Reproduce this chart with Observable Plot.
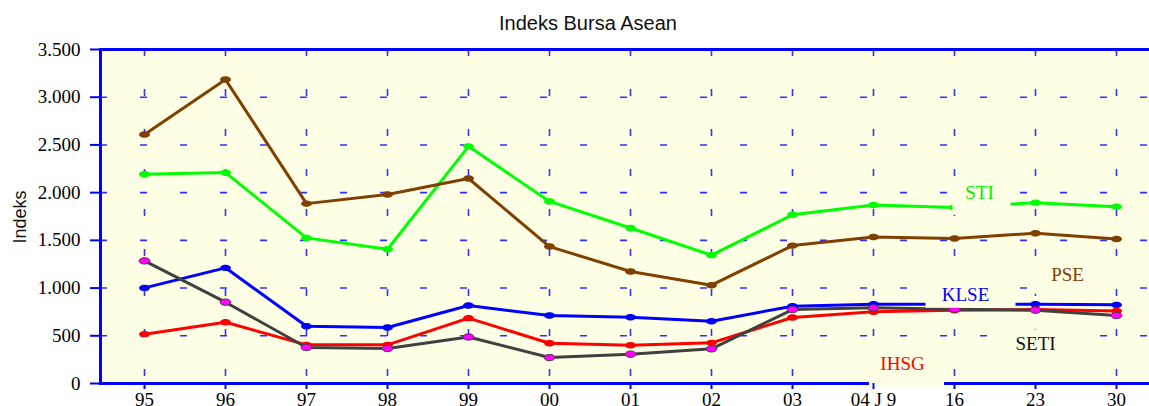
<!DOCTYPE html>
<html>
<head>
<meta charset="utf-8">
<script src="https://cdn.jsdelivr.net/npm/d3@7"></script>
<script src="https://cdn.jsdelivr.net/npm/@observablehq/plot@0.6"></script>
<style>
  html, body { margin: 0; padding: 0; background: #ffffff; overflow: hidden; }
  #wrap { position: relative; width: 1149px; height: 406px; overflow: hidden; background: #ffffff; }
  #title { position: absolute; left: 0; top: 13px; width: 1176px; text-align: center;
           font-family: "Liberation Sans", Arial, sans-serif; font-size: 20px; line-height: 20px; color: #111; }
  #ylabel { position: absolute; left: 19.5px; top: 217px; transform: translate(-50%, -50%) rotate(-90deg);
            font-family: "Liberation Sans", Arial, sans-serif; font-size: 18px; line-height: 18px; white-space: nowrap; color: #111; }
  #chart { position: absolute; left: 0; top: 40px; width: 1162px; }
  #chart svg { max-width: none !important; }
</style>
</head>
<body>
<div id="wrap">
  <div id="title">Indeks Bursa Asean</div>
  <div id="ylabel">Indeks</div>
  <div id="chart"></div>
</div>
<script>
// ---- data ----
const xLabels = ["95", "96", "97", "98", "99", "00", "01", "02", "03", "04 J 9", "16", "23", "30"];
const seriesNames = ["STI", "PSE", "KLSE", "IHSG", "SETI"];
const sti  = [2192, 2210, 1526, 1407, 2485, 1908, 1630, 1345, 1768, 1870, 1845, 1895, 1853];
const pse  = [2610, 3185, 1885, 1980, 2148, 1435, 1174, 1030, 1445, 1535, 1520, 1575, 1515];
const klse = [1002, 1212,  600,  587,  817,  712,  695,  653,  810,  831,  830,  831,  824];
const ihsg = [ 517,  642,  405,  405,  685,  422,  401,  426,  692,  751,  768,  775,  761];
const seti = [1285,  852,  377,  367,  488,  272,  307,  363,  775,  793,  779,  768,  712];
const yTicks = [0, 500, 1000, 1500, 2000, 2500, 3000, 3500];
const yTickLabels = ["0", "500", "1.000", "1.500", "2.000", "2.500", "3.000", "3.500"];
const gridValues = [500, 1000, 1500, 2000, 2500, 3000];
const labelNames = ["STI", "PSE", "KLSE", "SETI", "IHSG"];
const labelCats = ["16", "23", "16", "23", "04 J 9"];
const labelValues = [2000, 1140, 930, 420, 205];

// ---- styles ----
const seriesValues = [sti, pse, klse, ihsg, seti];
const lineColors = ["#00ff00", "#804000", "#0000ff", "#ff0000", "#404040"];
const markColors = ["#00ff00", "#804000", "#0000ff", "#ff0000", "#ff00ff"];
const markStroke = ["none", "none", "none", "none", "#404040"];
const labelColors = { STI: "#00ee00", PSE: "#804000", KLSE: "#0000ff", SETI: "#111111", IHSG: "#ff0000" };
const labelStyle = {
  STI:  { dx: 25, ox: 2, oy: 3,   w: 58, h: 38 },
  PSE:  { dx: 32, ox: 1, oy: 1.5, w: 82, h: 35 },
  KLSE: { dx: 11, ox: 5, oy: -1,  w: 90, h: 28 },
  SETI: { dx: 0,  ox: 6, oy: 10,  w: 78, h: 48 },
  IHSG: { dx: 29, ox: 4, oy: 3,   w: 75, h: 39 }
};
const bg = "#ffffe6";
const blue = "#0000ff";

const rows = xLabels.flatMap((c, i) => seriesNames.map((s, k) => ({ cat: c, name: s, value: seriesValues[k][i] })));

const ellipse = {
  draw(ctx, size) {
    const r = Math.sqrt(size / Math.PI), rx = r * 1.7, ry = r, k = 0.5523;
    ctx.moveTo(rx, 0);
    ctx.bezierCurveTo(rx, ry * k, rx * k, ry, 0, ry);
    ctx.bezierCurveTo(-rx * k, ry, -rx, ry * k, -rx, 0);
    ctx.bezierCurveTo(-rx, -ry * k, -rx * k, -ry, 0, -ry);
    ctx.bezierCurveTo(rx * k, -ry, rx, -ry * k, rx, 0);
    ctx.closePath();
  }
};
const boxSymbol = (ox, oy, w, h) => ({
  draw(ctx) {
    ctx.moveTo(ox - w / 2, oy - h / 2);
    ctx.lineTo(ox + w / 2, oy - h / 2);
    ctx.lineTo(ox + w / 2, oy + h / 2);
    ctx.lineTo(ox - w / 2, oy + h / 2);
    ctx.closePath();
  }
});

const seriesMarks = seriesNames.flatMap((s, k) => {
  const d = rows.filter(r => r.name === s);
  return [
    Plot.line(d, { x: "cat", y: "value", stroke: lineColors[k], strokeWidth: 3 }),
    Plot.dot(d, { x: "cat", y: "value", symbol: ellipse, r: 3.2, fill: markColors[k], stroke: markStroke[k], strokeWidth: 1 })
  ];
});

const labelRows = labelNames.map((n, i) => ({ name: n, cat: labelCats[i], value: labelValues[i] }));
const boxMarks = labelRows.map(d => {
  const st = labelStyle[d.name];
  return Plot.dot([d], { x: "cat", y: "value", r: 1, dx: st.dx, symbol: boxSymbol(st.ox, st.oy, st.w, st.h), fill: bg, stroke: "none" });
});
const textMarks = labelRows.map(d => {
  const st = labelStyle[d.name];
  return Plot.text([d], { x: "cat", y: "value", text: "name", dx: st.dx, fill: labelColors[d.name],
                          fontFamily: "Liberation Serif", fontSize: 19 });
});

const chart = Plot.plot({
  width: 1162,
  height: 366,
  marginTop: 9,
  marginBottom: 23,
  marginLeft: 100,
  marginRight: 2,
  style: { background: "transparent", fontFamily: "Liberation Serif", fontSize: "19px", color: "black", overflow: "visible", maxWidth: "none" },
  x: { type: "point", domain: xLabels, padding: 0.5 },
  y: { domain: [0, 3500] },
  marks: [
    Plot.frame({ fill: bg, stroke: "none" }),
    Plot.gridX({ stroke: "#3030ff", strokeOpacity: 1, strokeWidth: 1.6, strokeDasharray: "7,33" }),
    Plot.gridY(gridValues, { stroke: "#3030ff", strokeOpacity: 1, strokeWidth: 1.6, strokeDasharray: "7,33" }),
    Plot.frame({ stroke: blue, strokeWidth: 3, fill: "none" }),
    ...seriesMarks,
    ...boxMarks,
    ...textMarks,
    Plot.axisX({ tickSize: 6, tickPadding: 3, stroke: blue, strokeWidth: 2, fill: "black",
                 fontSize: 19, fontFamily: "Liberation Serif", label: null }),
    Plot.axisY({ ticks: yTicks, tickFormat: d => yTickLabels[yTicks.indexOf(d)], tickSize: 10, tickPadding: 10,
                 stroke: blue, strokeWidth: 2, fill: "black", fontSize: 19, fontFamily: "Liberation Serif", label: null })
  ]
});
chart.style.maxWidth = "none";
document.getElementById("chart").appendChild(chart);
</script>
</body>
</html>
